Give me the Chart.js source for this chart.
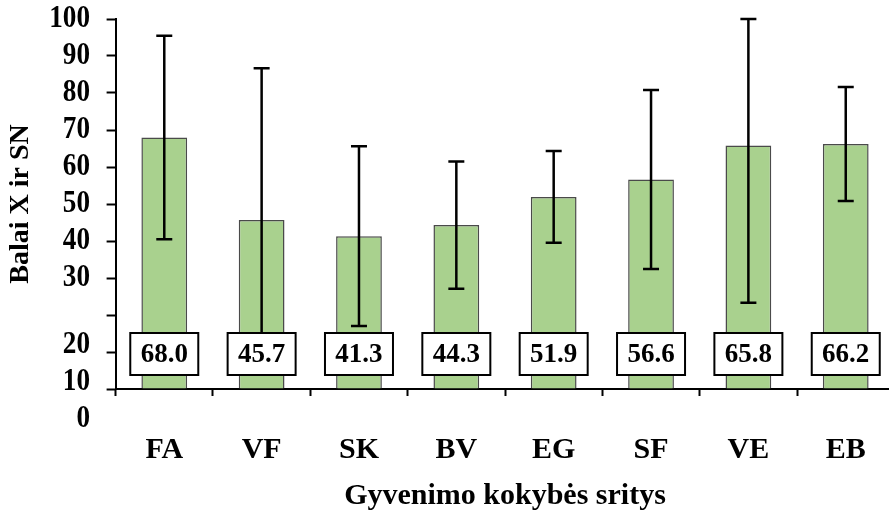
<!DOCTYPE html>
<html>
<head>
<meta charset="utf-8">
<script src="https://cdn.jsdelivr.net/npm/chart.js@4/dist/chart.umd.min.js"></script>
<style>
    html, body { margin: 0; padding: 0; background: #fff; overflow: hidden; }
    #wrap { width: 905px; height: 512px; }
</style>
</head>
<body>
<div id="wrap"><canvas id="chart" width="905" height="512"></canvas></div>
<script>
// data
const categories = ['FA', 'VF', 'SK', 'BV', 'EG', 'SF', 'VE', 'EB'];
const means = [68.0, 45.7, 41.3, 44.3, 51.9, 56.6, 65.8, 66.2];
const sds = [27.5, 41.0, 24.3, 17.2, 12.4, 24.2, 42.5, 15.4];
const yTicks = [0, 10, 20, 30, 40, 50, 60, 70, 80, 90, 100];

const serif = "'Liberation Serif', 'Times New Roman', serif";

// error bars + value boxes on top of the bars
const overlayPlugin = {
    id: 'overlay',
    afterDatasetsDraw(chart) {
        const ctx = chart.ctx;
        const y = chart.scales.y;
        const meta = chart.getDatasetMeta(0);
        ctx.save();
        ctx.strokeStyle = '#000';
        ctx.lineWidth = 2.5;
        meta.data.forEach((bar, i) => {
            const top = y.getPixelForValue(Math.min(means[i] + sds[i], y.max));
            const bot = y.getPixelForValue(Math.max(means[i] - sds[i], y.min));
            ctx.beginPath();
            ctx.moveTo(bar.x, top); ctx.lineTo(bar.x, bot);
            ctx.moveTo(bar.x - 8, top); ctx.lineTo(bar.x + 8, top);
            ctx.moveTo(bar.x - 8, bot); ctx.lineTo(bar.x + 8, bot);
            ctx.stroke();
        });
        // value boxes near the baseline
        ctx.font = 'bold 27px ' + serif;
        ctx.textAlign = 'center';
        ctx.textBaseline = 'middle';
        ctx.lineWidth = 2;
        const cy = y.getPixelForValue(0) - 35;
        meta.data.forEach((bar, i) => {
            ctx.fillStyle = '#fff';
            ctx.fillRect(bar.x - 34, cy - 21, 68, 42);
            ctx.strokeRect(bar.x - 34, cy - 21, 68, 42);
            ctx.fillStyle = '#000';
            ctx.fillText(means[i].toFixed(1), bar.x, cy + 1);
        });
        ctx.restore();
    },
    afterDraw(chart) {
        // y tick labels (the bottom three sit lower, as in the original)
        const ctx = chart.ctx;
        const y = chart.scales.y;
        ctx.save();
        ctx.font = 'bold 32px ' + serif;
        ctx.fillStyle = '#000';
        ctx.textAlign = 'right';
        ctx.textBaseline = 'middle';
        ctx.scale(0.85, 1);
        yTicks.forEach(v => {
            const shift = v <= 20 ? 30 : 0;
            ctx.fillText(String(v), 90 / 0.85, y.getPixelForValue(v) + shift);
        });
        ctx.restore();
    }
};

new Chart(document.getElementById('chart'), {
    type: 'bar',
    data: {
        labels: categories,
        datasets: [{
            data: means,
            backgroundColor: '#a9d18e',
            borderColor: '#4a4a4a',
            borderWidth: 1.5,
            barPercentage: 0.47,
            categoryPercentage: 1
        }]
    },
    options: {
        responsive: false,
        devicePixelRatio: 1,
        animation: false,
        layout: { padding: { top: 19, right: 4, left: 0, bottom: 0 } },
        plugins: { legend: { display: false }, tooltip: { enabled: false } },
        scales: {
            x: {
                z: 1,
                grid: { drawOnChartArea: false, drawTicks: true, tickLength: 7, tickColor: '#000', tickWidth: 2, offset: true },
                border: { color: '#000', width: 2 },
                ticks: { color: '#000', padding: 39, font: { family: serif, size: 30, weight: 'bold', lineHeight: 1 } },
                title: {
                    display: true,
                    text: 'Gyvenimo kokybės sritys',
                    color: '#000',
                    font: { family: serif, size: 30, weight: 'bold', lineHeight: 1 },
                    padding: { top: -23, bottom: 1 }
                }
            },
            y: {
                z: 1,
                min: 0,
                max: 100,
                ticks: { display: false, stepSize: 10 },
                grid: { drawOnChartArea: false, drawTicks: true, tickLength: 9, tickColor: '#000', tickWidth: 2 },
                border: { color: '#000', width: 2 },
                title: {
                    display: true,
                    text: 'Balai X ir SN',
                    color: '#000',
                    font: { family: serif, size: 28, weight: 'bold', lineHeight: 1.2 },
                    padding: { top: 4, bottom: 69 }
                }
            }
        }
    },
    plugins: [overlayPlugin]
});
</script>
</body>
</html>
